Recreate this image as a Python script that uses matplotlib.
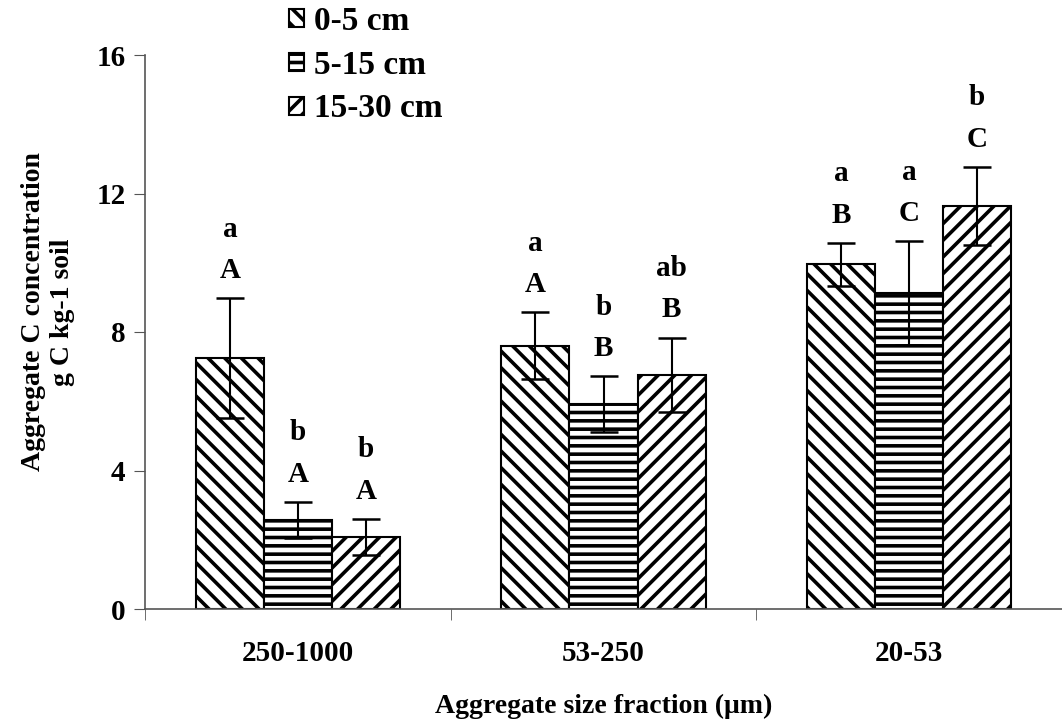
import numpy as np
import matplotlib
matplotlib.use("Agg")
import matplotlib.pyplot as plt

# fonts
plt.rcParams["font.family"] = ["Liberation Serif", "DejaVu Serif"]
plt.rcParams["font.weight"] = "bold"
plt.rcParams["axes.labelweight"] = "bold"
plt.rcParams["hatch.linewidth"] = 2.6

# data
fractions = ["250-1000", "53-250", "20-53"]
depths = ["0-5 cm", "5-15 cm", "15-30 cm"]
carbon = {
    "0-5 cm": [7.25, 7.6, 9.95],
    "5-15 cm": [2.57, 5.92, 9.12],
    "15-30 cm": [2.08, 6.76, 11.64],
}
carbon_se = {
    "0-5 cm": [1.72, 0.97, 0.62],
    "5-15 cm": [0.52, 0.8, 1.5],
    "15-30 cm": [0.52, 1.08, 1.12],
}
# letters over bars (depth / fraction comparisons)
lower_letters = {
    "0-5 cm": ["a", "a", "a"],
    "5-15 cm": ["b", "b", "a"],
    "15-30 cm": ["b", "ab", "b"],
}
upper_letters = {
    "0-5 cm": ["A", "A", "B"],
    "5-15 cm": ["A", "B", "C"],
    "15-30 cm": ["A", "B", "C"],
}

hatches = ["\\\\", "--", "//"]

fig = plt.figure(figsize=(10.62, 7.25), dpi=100)
ax = fig.add_axes([145 / 1062, 116 / 725, 917 / 1062, 554 / 725])

x = np.arange(len(fractions))
w = 0.2225
for i, d in enumerate(depths):
    pos = x + (i - 1) * w
    vals = np.array(carbon[d])
    errs = np.array(carbon_se[d])
    ax.bar(pos, vals, w, color="white", edgecolor="black", linewidth=1.5,
           hatch=hatches[i], label=d, zorder=2)
    ax.errorbar(pos, vals, yerr=errs, fmt="none", ecolor="black",
                elinewidth=1.5, capsize=10, capthick=1.8, zorder=3)
    for p, v, e, lo, up in zip(pos, vals, errs, lower_letters[d], upper_letters[d]):
        ax.text(p, v + e + 0.8, up, ha="center", va="center", fontsize=21)
        ax.text(p, v + e + 2.0, lo, ha="center", va="center", fontsize=21)

ax.set_xlim(-0.5, 2.5)
ax.set_ylim(0, 16)
ax.set_yticks([0, 4, 8, 12, 16])
ax.set_xticks(x)
ax.set_xticklabels(fractions)
ax.set_xticks([-0.5, 0.5, 1.5, 2.5], minor=True)
ax.tick_params(axis="x", which="major", length=0, pad=22, labelsize=21)
ax.tick_params(axis="x", which="minor", length=8, direction="out", color="#555555")
ax.tick_params(axis="y", length=8, direction="out", color="#555555", pad=6, labelsize=21)

for s in ["top", "right"]:
    ax.spines[s].set_visible(False)
for s in ["left", "bottom"]:
    ax.spines[s].set_color("#555555")
    ax.spines[s].set_linewidth(1.2)

ax.set_xlabel("Aggregate size fraction (\u03bcm)", fontsize=20, labelpad=20)
fig.text(48 / 1062, 1 - 312 / 725, "Aggregate C concentration\ng C kg-1 soil",
         rotation=90, ha="center", va="center", fontsize=20,
         fontweight="bold", multialignment="center", linespacing=1.25)

fig.legend(loc="upper left", bbox_to_anchor=(276 / 1062, 1.01), frameon=False,
           handlelength=0.45, handleheight=0.45, handletextpad=0.3,
           labelspacing=0.38, fontsize=24, borderaxespad=0.0)

fig.savefig("out.png", dpi=100)
